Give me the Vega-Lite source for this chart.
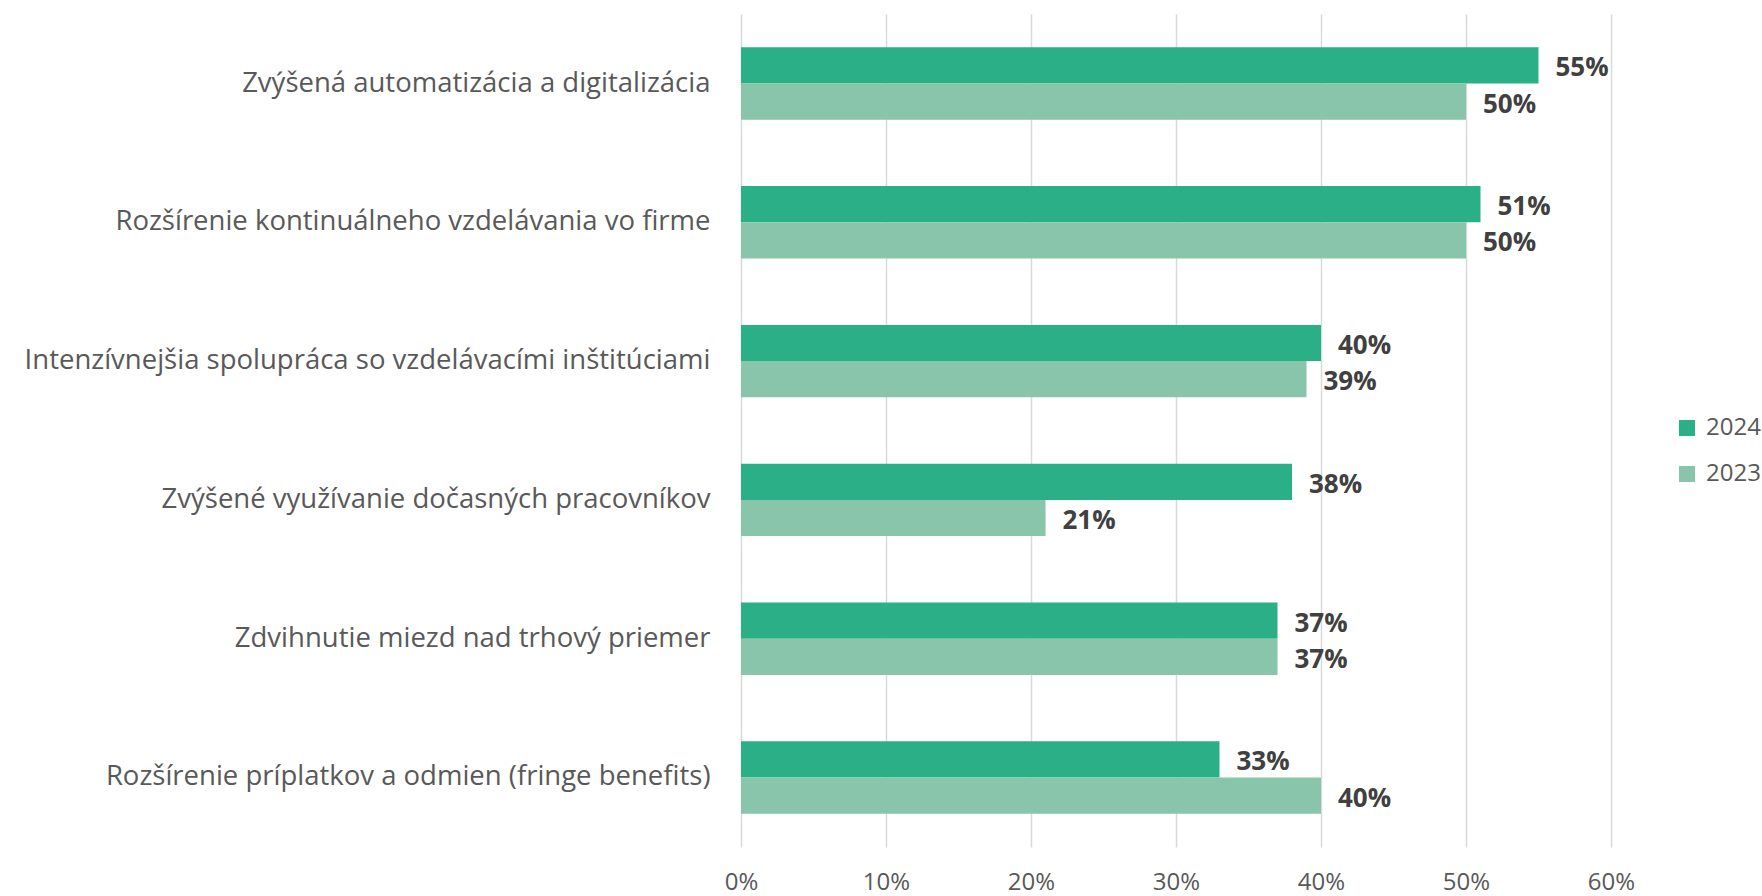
{
  "$schema": "https://vega.github.io/schema/vega-lite/v6.json",
  "autosize": {"type": "none"},
  "padding": {"left": 741, "top": 14, "right": 151, "bottom": 49},
  "width": 870,
  "height": 833,
  "background": "white",
  "config": {
    "view": {"stroke": null},
    "font": "Open Sans"
  },
  "data": {
    "values": [
      {"cat": "Zvýšená automatizácia a digitalizácia", "year": "2024", "value": 0.55},
      {"cat": "Zvýšená automatizácia a digitalizácia", "year": "2023", "value": 0.50},
      {"cat": "Rozšírenie kontinuálneho vzdelávania vo firme", "year": "2024", "value": 0.51},
      {"cat": "Rozšírenie kontinuálneho vzdelávania vo firme", "year": "2023", "value": 0.50},
      {"cat": "Intenzívnejšia spolupráca so vzdelávacími inštitúciami", "year": "2024", "value": 0.40},
      {"cat": "Intenzívnejšia spolupráca so vzdelávacími inštitúciami", "year": "2023", "value": 0.39},
      {"cat": "Zvýšené využívanie dočasných pracovníkov", "year": "2024", "value": 0.38},
      {"cat": "Zvýšené využívanie dočasných pracovníkov", "year": "2023", "value": 0.21},
      {"cat": "Zdvihnutie miezd nad trhový priemer", "year": "2024", "value": 0.37},
      {"cat": "Zdvihnutie miezd nad trhový priemer", "year": "2023", "value": 0.37},
      {"cat": "Rozšírenie príplatkov a odmien (fringe benefits)", "year": "2024", "value": 0.33},
      {"cat": "Rozšírenie príplatkov a odmien (fringe benefits)", "year": "2023", "value": 0.40}
    ]
  },
  "encoding": {
    "y": {
      "field": "cat",
      "type": "nominal",
      "sort": null,
      "title": null,
      "scale": {"paddingInner": 0.478, "paddingOuter": 0.24},
      "axis": {
        "domain": false,
        "ticks": false,
        "labelPadding": 31,
        "labelLimit": 1000,
        "labelFontSize": 27.5,
        "labelColor": "#595959",
        "labelFont": "Open Sans"
      }
    },
    "yOffset": {"field": "year", "type": "nominal", "sort": ["2024", "2023"]},
    "x": {
      "field": "value",
      "type": "quantitative",
      "title": null,
      "scale": {"domain": [0, 0.6], "nice": false},
      "axis": {
        "format": ".0%",
        "values": [0, 0.1, 0.2, 0.3, 0.4, 0.5, 0.6],
        "domain": false,
        "ticks": false,
        "grid": true,
        "gridColor": "#d9d9d9",
        "gridWidth": 1.5,
        "labelFlush": false,
        "labelAlign": "center",
        "labelBaseline": "middle",
        "labelPadding": 35,
        "labelFontSize": 24,
        "labelColor": "#595959",
        "labelFont": "Open Sans"
      }
    }
  },
  "layer": [
    {
      "mark": {"type": "bar"},
      "encoding": {
        "color": {
          "field": "year",
          "type": "nominal",
          "scale": {"domain": ["2024", "2023"], "range": ["#2BAF86", "#88C5AA"]},
          "legend": {
            "title": null,
            "orient": "none",
            "legendX": 934,
            "legendY": 402,
            "symbolType": "square",
            "symbolSize": 256,
            "symbolStrokeWidth": 0,
            "labelFontSize": 24,
            "labelColor": "#595959",
            "labelFont": "Open Sans",
            "labelOffset": 7,
            "rowPadding": 22
          }
        }
      }
    },
    {
      "mark": {
        "type": "text",
        "align": "left",
        "baseline": "middle",
        "dx": 17,
        "dy": 3,
        "fontSize": 26,
        "fontWeight": "bold",
        "color": "#404040",
        "font": "Open Sans"
      },
      "encoding": {
        "text": {"field": "value", "type": "quantitative", "format": ".0%"}
      }
    }
  ]
}
